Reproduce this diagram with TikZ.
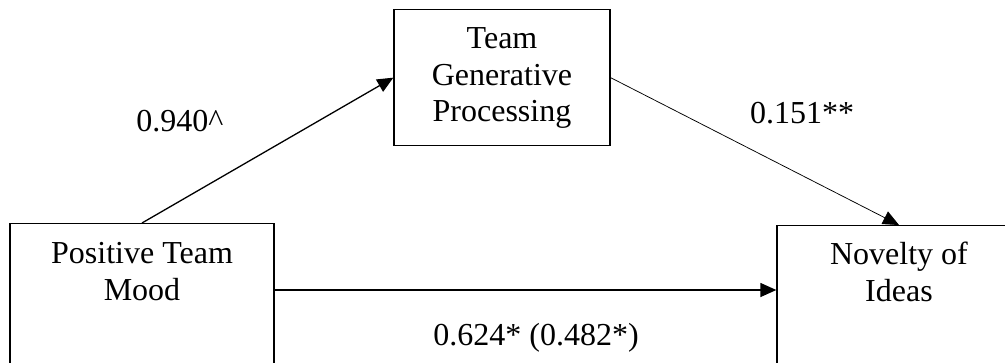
\documentclass[tikz,border=0pt]{standalone}
\usepackage{fontspec}
\setmainfont{Liberation Serif}
\usetikzlibrary{arrows.meta}
\tikzset{>={Triangle[length=16pt,width=14pt]}}
\tikzset{
  varbox/.style={draw,line width=1.3pt,anchor=north,inner xsep=0pt,inner ysep=16pt,text height=23pt},
  link/.style={->,line width=1.3pt},
  coef/.style={anchor=base,inner sep=0pt}
}
\newcommand{\boxlines}[1]{\begin{tabular}[t]{@{}c@{}}#1\end{tabular}}

\begin{document}
\begin{tikzpicture}[x=1pt,y=-1pt,font=\fontsize{32}{36.5}\selectfont]
  \useasboundingbox (0,0) rectangle (1005,362);
  \clip (0,0) rectangle (1005,362);

  % Boxes
  \node[varbox,minimum width=264pt,inner ysep=17pt,text depth=120pt] (pos) at (142,223) {\boxlines{Positive Team\\Mood}};
  \node[varbox,minimum width=216pt,text depth=81pt] (tgp) at (502,9) {\boxlines{Team\\Generative\\Processing}};
  \node[varbox,minimum width=244pt,text depth=120pt] (nov) at (899,225) {\boxlines{Novelty of\\Ideas}};

  % Arrows
  \draw[link] (pos.north) -- (tgp.west);
  \draw[link,line width=0.75pt] (tgp.east) -- (nov.north);
  \draw[link] ([yshift=-67pt]pos.north east) -- ([yshift=-65pt]nov.north west);

  % Labels
  \node[coef] (a) at (180,131) {0.940\textasciicircum};
  \node[coef] (b) at (802,123) {0.151**};
  \node[coef] (c) at (536,345) {0.624* (0.482*)};
\end{tikzpicture}
\end{document}
